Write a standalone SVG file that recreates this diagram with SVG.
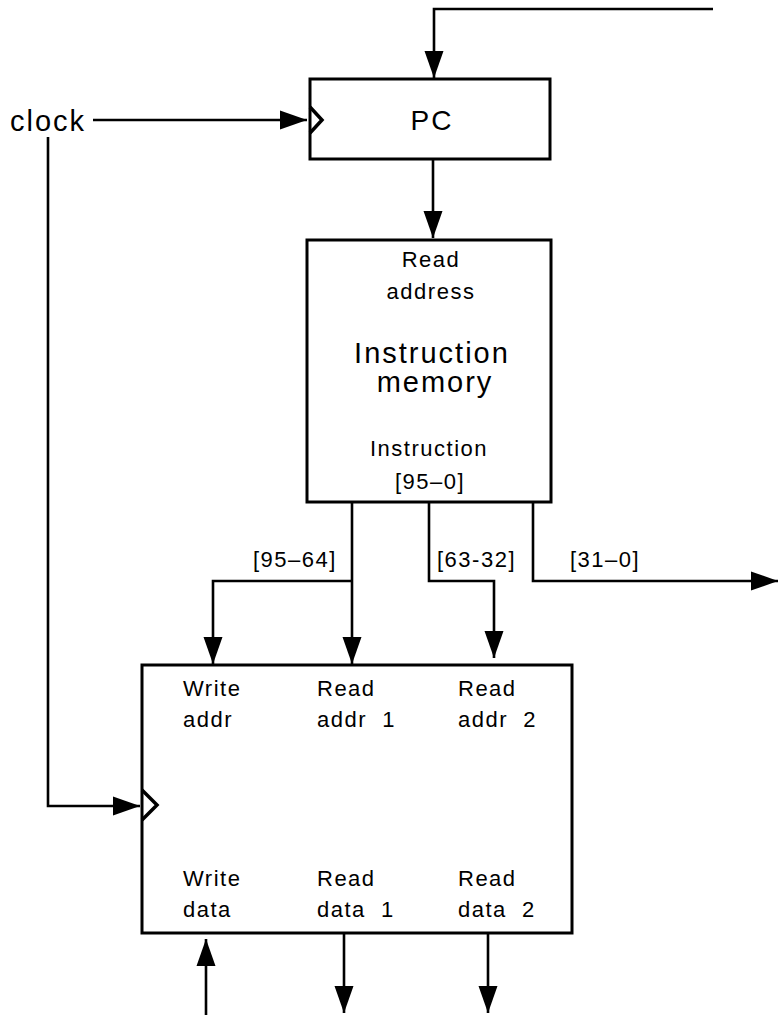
<svg xmlns="http://www.w3.org/2000/svg" width="778" height="1015" viewBox="0 0 778 1015">
<style>
  text { font-family: "Liberation Sans", Arial, sans-serif; fill: #000; }
  .sm { font-size: 22px; letter-spacing: 1.5px; }
  .lg { font-size: 29px; letter-spacing: 2px; }
  .mid { text-anchor: middle; }
  .box { fill: #fff; stroke: #000; stroke-width: 3; }
  .wire { fill: none; stroke: #000; stroke-width: 2.6; }
  .clk { fill: none; stroke: #000; stroke-width: 3.5; }
</style>
<defs>
  <marker id="arr" markerUnits="userSpaceOnUse" markerWidth="28" markerHeight="21" refX="27" refY="10" orient="auto">
    <path d="M0,0.5 L27,10 L0,19.5 Z" fill="#000"/>
  </marker>
</defs>
<rect width="778" height="1015" fill="#fff"/>

<g id="pc">
  <rect class="box" x="310" y="79" width="240" height="80"/>
  <polyline class="clk" points="310,107 322,120 310,133"/>
  <text class="lg mid" x="432" y="130" style="font-size:28px">PC</text>
</g>

<g id="clock-label">
  <text class="lg" x="10" y="131">clock</text>
</g>

<g id="imem">
  <rect class="box" x="307" y="240" width="244" height="262"/>
  <text class="sm mid" x="431" y="267">Read</text>
  <text class="sm mid" x="431" y="299">address</text>
  <text class="lg mid" x="432" y="363">Instruction</text>
  <text class="lg mid" x="435" y="392">memory</text>
  <text class="sm mid" x="429" y="456">Instruction</text>
  <text class="sm mid" x="430" y="489">[95–0]</text>
</g>

<g id="regfile">
  <rect class="box" x="142" y="665" width="430" height="268"/>
  <polyline class="clk" points="142,790 157,805 142,820"/>
  <text class="sm" x="183" y="696">Write</text>
  <text class="sm" x="183" y="727">addr</text>
  <text class="sm" x="317" y="696">Read</text>
  <text class="sm" x="317" y="727" xml:space="preserve">addr  1</text>
  <text class="sm" x="458" y="696">Read</text>
  <text class="sm" x="458" y="727" xml:space="preserve">addr  2</text>
  <text class="sm" x="183" y="886">Write</text>
  <text class="sm" x="183" y="917">data</text>
  <text class="sm" x="317" y="886">Read</text>
  <text class="sm" x="317" y="917" xml:space="preserve">data  1</text>
  <text class="sm" x="458" y="886">Read</text>
  <text class="sm" x="458" y="917" xml:space="preserve">data  2</text>
</g>

<g id="connectors">
  <polyline class="wire" points="713,9 434,9 434,78" marker-end="url(#arr)"/>
  <line class="wire" x1="93" y1="120" x2="307" y2="120" marker-end="url(#arr)"/>
  <polyline class="wire" points="48,137 48,806 140,806" marker-end="url(#arr)"/>
  <line class="wire" x1="433" y1="159" x2="433" y2="238" marker-end="url(#arr)"/>
  <line class="wire" x1="352" y1="502" x2="352" y2="664" marker-end="url(#arr)"/>
  <polyline class="wire" points="352,581 213,581 213,664" marker-end="url(#arr)"/>
  <polyline class="wire" points="429,502 429,581 494,581 494,658" marker-end="url(#arr)"/>
  <polyline class="wire" points="533,502 533,581 778,581" marker-end="url(#arr)"/>
  <line class="wire" x1="206" y1="1015" x2="206" y2="939" marker-end="url(#arr)"/>
  <line class="wire" x1="344" y1="933" x2="344" y2="1013" marker-end="url(#arr)"/>
  <line class="wire" x1="488" y1="933" x2="488" y2="1013" marker-end="url(#arr)"/>
  <text class="sm" x="253" y="567">[95–64]</text>
  <text class="sm" x="437" y="567">[63-32]</text>
  <text class="sm" x="570" y="567">[31–0]</text>
</g>
</svg>
